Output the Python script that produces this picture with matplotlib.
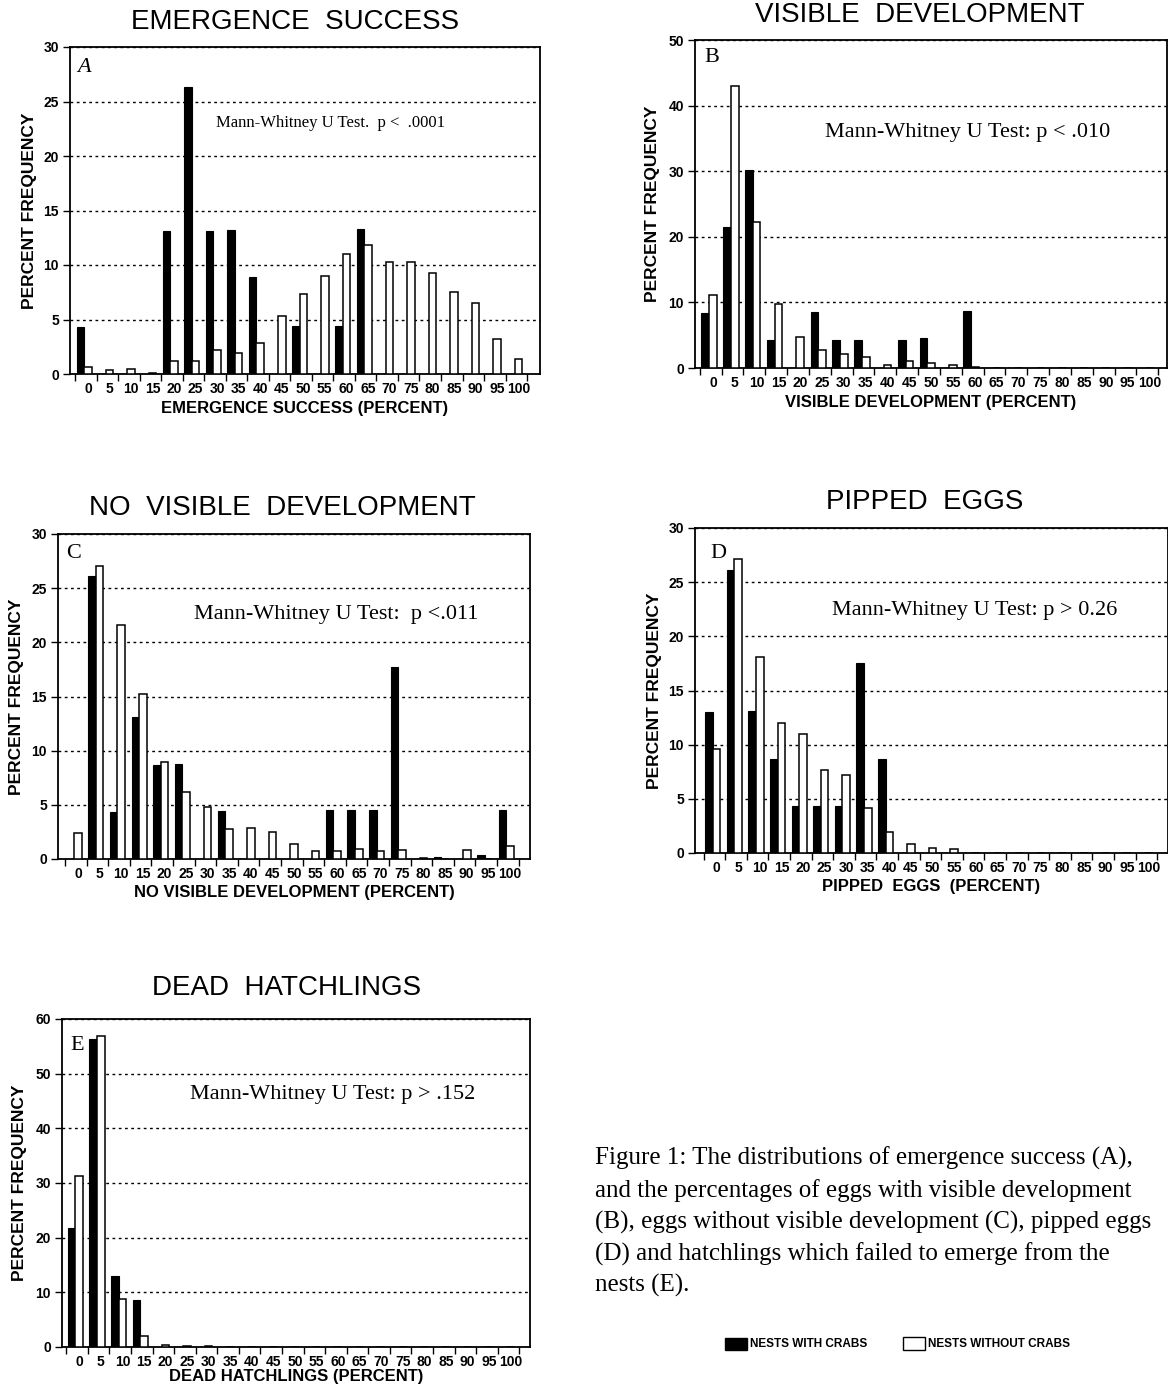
import numpy as np
import matplotlib
matplotlib.use("Agg")
import matplotlib.pyplot as plt
from matplotlib.patches import Rectangle

# ---------------- data ----------------
categories = [str(v) for v in range(0, 101, 5)]

emerg_with = [4.3, 0, 0, 0, 13.1, 26.3, 13.1, 13.2, 8.9, 0, 4.4, 0, 4.4, 13.3, 0, 0, 0, 0, 0, 0, 0]
emerg_without = [0.6, 0.4, 0.5, 0.1, 1.2, 1.2, 2.2, 1.9, 2.8, 5.3, 7.3, 9.0, 11.0, 11.8, 10.3, 10.3, 9.3, 7.5, 6.5, 3.2, 1.4]

vis_with = [8.4, 21.5, 30.2, 4.2, 0, 8.5, 4.3, 4.3, 0, 4.3, 4.5, 0, 8.7, 0, 0, 0, 0, 0, 0, 0, 0]
vis_without = [11.1, 43.0, 22.2, 9.8, 4.7, 2.7, 2.1, 1.7, 0.4, 1.0, 0.8, 0.5, 0.2, 0, 0, 0, 0, 0, 0, 0, 0]

novis_with = [0, 26.1, 4.3, 13.1, 8.7, 8.8, 0, 4.4, 0, 0, 0, 0, 4.5, 4.5, 4.5, 17.7, 0, 0.2, 0, 0.4, 4.5]
novis_without = [2.4, 27.0, 21.6, 15.2, 9.0, 6.2, 4.8, 2.8, 2.9, 2.5, 1.4, 0.7, 0.7, 0.9, 0.7, 0.8, 0.1, 0, 0.8, 0, 1.2]

pip_with = [13.0, 26.1, 13.1, 8.7, 4.3, 4.3, 4.3, 17.5, 8.7, 0, 0, 0, 0, 0, 0, 0, 0, 0, 0, 0, 0]
pip_without = [9.6, 27.1, 18.1, 12.0, 11.0, 7.7, 7.2, 4.2, 1.9, 0.8, 0.5, 0.4, 0, 0, 0, 0, 0, 0, 0, 0, 0]

dead_with = [21.7, 56.3, 12.9, 8.6, 0, 0, 0, 0, 0, 0, 0, 0, 0, 0, 0, 0, 0, 0, 0, 0, 0]
dead_without = [31.2, 56.9, 8.7, 2.1, 0.3, 0.2, 0.2, 0, 0, 0, 0, 0, 0, 0, 0, 0, 0, 0, 0, 0, 0]

titles = ["EMERGENCE  SUCCESS", "VISIBLE  DEVELOPMENT", "NO  VISIBLE  DEVELOPMENT",
          "PIPPED  EGGS", "DEAD  HATCHLINGS"]
xlabels = ["EMERGENCE SUCCESS (PERCENT)", "VISIBLE DEVELOPMENT (PERCENT)",
           "NO VISIBLE DEVELOPMENT (PERCENT)", "PIPPED  EGGS  (PERCENT)",
           "DEAD HATCHLINGS (PERCENT)"]
letters = ["A", "B", "C", "D", "E"]
tests = ["Mann-Whitney U Test.  p <  .0001", "Mann-Whitney U Test: p < .010",
         "Mann-Whitney U Test:  p <.011", "Mann-Whitney U Test: p > 0.26",
         "Mann-Whitney U Test: p > .152"]
ymaxes = [30, 50, 30, 30, 60]
ysteps = [5, 10, 5, 5, 10]
series_with = [emerg_with, vis_with, novis_with, pip_with, dead_with]
series_without = [emerg_without, vis_without, novis_without, pip_without, dead_without]

caption = ["Figure 1: The distributions of emergence success (A),",
           "and the percentages of eggs with visible development",
           "(B), eggs without visible development (C), pipped eggs",
           "(D) and hatchlings which failed to emerge from the",
           "nests (E)."]
legend_labels = ["NESTS WITH CRABS", "NESTS WITHOUT CRABS"]

# ---------------- layout (pixels) ----------------
W, H = 1168, 1391
fig = plt.figure(figsize=(W / 100, H / 100), dpi=100)
fig.patch.set_facecolor("white")

layout = [
    dict(box=(70, 47, 540, 374), tc=(295, 22), ylx=30, xly=408, xl=(-0.84, 21.0),
         letter=(77, 68), test=(330, 123), tsize=12, lstyle="italic"),
    dict(box=(695, 40, 1167, 368), tc=(920, 15), ylx=652, xly=402, xl=(-0.82, 20.8),
         letter=(704, 58), test=(968, 132), tsize=16, lstyle="normal"),
    dict(box=(58, 534, 530, 859), tc=(282, 508), ylx=17, xly=893, xl=(-0.93, 20.93),
         letter=(66, 554), test=(336, 615), tsize=16, lstyle="normal"),
    dict(box=(695, 528, 1168, 853), tc=(925, 502), ylx=655, xly=886, xl=(-1.0, 20.9),
         letter=(710, 553), test=(975, 610), tsize=16, lstyle="normal"),
    dict(box=(62, 1019, 530, 1347), tc=(287, 988), ylx=20, xly=1377, xl=(-0.8, 20.9),
         letter=(70, 1045), test=(333, 1095), tsize=16, lstyle="normal"),
]

sans = ["Liberation Sans", "DejaVu Sans"]
serif = ["Liberation Serif", "DejaVu Serif"]
tickfont = dict(fontsize=10, fontweight="bold", family=sans)

x = np.arange(len(categories))
bw = 0.35

for i, L in enumerate(layout):
    l, t, r, b = L["box"]
    ax = fig.add_axes([l / W, 1 - b / H, (r - l) / W, (b - t) / H])
    ax.bar(x - bw, series_with[i], width=bw, color="black", edgecolor="black",
           linewidth=0.8, zorder=3)
    ax.bar(x, series_without[i], width=bw, color="white", edgecolor="black",
           linewidth=1.1, zorder=3)
    ax.set_xlim(*L["xl"])
    ax.set_ylim(0, ymaxes[i])
    yt = np.arange(0, ymaxes[i] + 1, ysteps[i])
    ax.set_yticks(yt, labels=[str(v) for v in yt], **tickfont)
    ax.set_xticks(x, labels=categories, **tickfont)
    ax.set_xticks(np.arange(-0.6, 20.5, 1.0), minor=True)
    ax.tick_params(axis="x", which="major", length=0, pad=6)
    ax.tick_params(axis="x", which="minor", length=5, width=1.0, direction="out")
    ax.tick_params(axis="y", which="major", length=5, width=1.0, direction="out", pad=3)
    ax.yaxis.grid(True, linestyle=(0, (2, 2.5)), color="black", linewidth=1.0, zorder=1)
    ax.set_axisbelow(True)
    for sp in ax.spines.values():
        sp.set_linewidth(1.3)

    fig.text(L["tc"][0] / W, 1 - L["tc"][1] / H, titles[i], ha="center", va="center",
             fontsize=20, family=sans)
    fig.text(L["ylx"] / W, 1 - ((t + b) / 2) / H, "PERCENT FREQUENCY", rotation=90,
             ha="center", va="center", fontsize=12.5, fontweight="bold", family=sans)
    fig.text(((l + r) / 2) / W, 1 - L["xly"] / H, xlabels[i], ha="center", va="center",
             fontsize=12, fontweight="bold", family=sans)
    fig.text(L["letter"][0] / W, 1 - L["letter"][1] / H, letters[i], ha="left",
             va="center", fontsize=16, family=serif, style=L["lstyle"])
    fig.text(L["test"][0] / W, 1 - L["test"][1] / H, tests[i], ha="center",
             va="center", fontsize=L["tsize"], family=serif)

# caption
for j, line in enumerate(caption):
    fig.text(595 / W, 1 - (1165 + j * 31.7) / H, line, ha="left", va="baseline",
             fontsize=18, family=serif)

# legend
fig.patches.append(Rectangle((725 / W, 1 - 1350 / H), 22 / W, 12 / H,
                             transform=fig.transFigure, facecolor="black",
                             edgecolor="black", linewidth=1))
fig.text(750 / W, 1 - 1344 / H, legend_labels[0], ha="left", va="center",
         fontsize=8.5, fontweight="bold", family=sans)
fig.patches.append(Rectangle((903 / W, 1 - 1350 / H), 22 / W, 13 / H,
                             transform=fig.transFigure, facecolor="white",
                             edgecolor="black", linewidth=1))
fig.text(928 / W, 1 - 1344 / H, legend_labels[1], ha="left", va="center",
         fontsize=8.5, fontweight="bold", family=sans)

fig.savefig("out.png", dpi=100, facecolor="white")
